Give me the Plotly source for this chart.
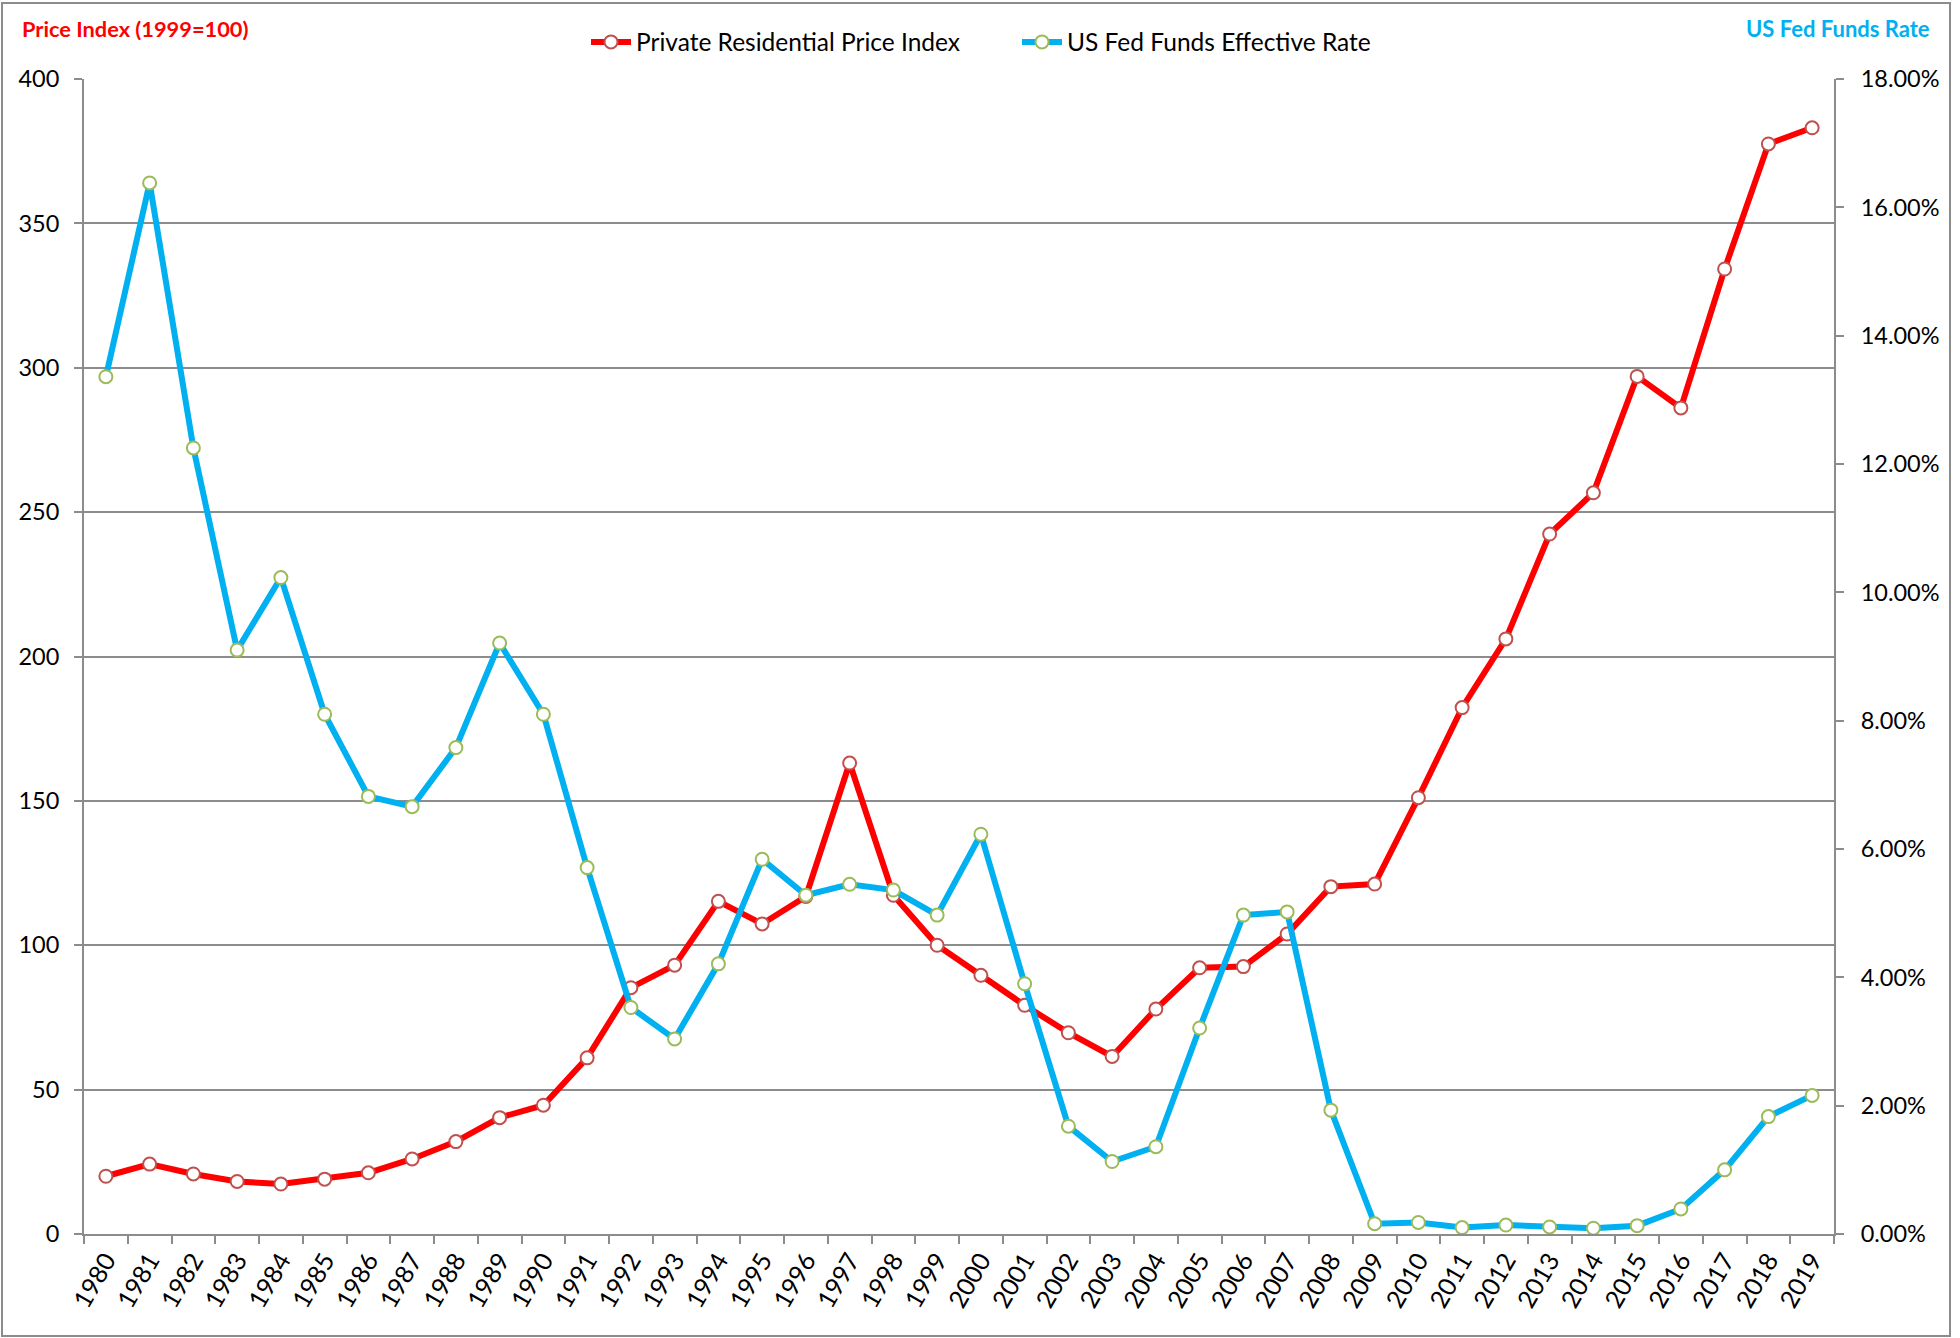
import plotly.graph_objects as go

years = [str(y) for y in range(1980, 2020)]

price_index = [20.0, 24.2, 20.8, 18.2, 17.3, 19.0, 21.2, 26.0, 32.0, 40.3,
               44.6, 61.0, 85.3, 93.1, 115.2, 107.4, 116.9, 163.1, 117.3, 100.0,
               89.6, 79.2, 69.7, 61.5, 77.9, 92.2, 92.6, 103.9, 120.3, 121.2,
               151.1, 182.3, 206.1, 242.4, 256.7, 297.0, 286.1, 334.2, 377.5, 383.1]

fed_funds = [13.36, 16.38, 12.25, 9.10, 10.23, 8.10, 6.82, 6.66, 7.58, 9.21,
             8.10, 5.71, 3.53, 3.04, 4.21, 5.84, 5.28, 5.45, 5.36, 4.97,
             6.23, 3.90, 1.68, 1.13, 1.36, 3.21, 4.97, 5.02, 1.93, 0.16,
             0.18, 0.10, 0.14, 0.11, 0.09, 0.13, 0.39, 1.00, 1.83, 2.16]

left_title = "Price Index (1999=100)"
right_title = "US Fed Funds Rate"
name_price = "Private Residential Price Index"
name_fed = "US Fed Funds Effective Rate"

FONT = "Lato"
GRID = "#8C8C8C"

W, H = 1960, 1338
L, R, T, B = 84, 1834, 79, 1234

fig = go.Figure()
fig.add_trace(go.Scatter(
    x=years, y=price_index, name=name_price, mode="lines+markers",
    line=dict(color="#FF0000", width=6),
    marker=dict(symbol="circle", size=13, color="white",
                line=dict(color="#C0504D", width=2)),
    legendwidth=376,
    yaxis="y"))
fig.add_trace(go.Scatter(
    x=years, y=fed_funds, name=name_fed, mode="lines+markers",
    line=dict(color="#00B0F0", width=6),
    marker=dict(symbol="circle", size=13, color="white",
                line=dict(color="#9BBB59", width=2)),
    yaxis="y2"))

def px_x(p):
    return (p - L) / (R - L)

def px_y(p):
    return (B - p) / (B - T)

fig.update_layout(
    width=W, height=H,
    margin=dict(l=L, r=W - R, t=T, b=H - B, pad=0),
    paper_bgcolor="white", plot_bgcolor="white",
    font=dict(family=FONT, size=23, color="black"),
    showlegend=True,
    legend=dict(orientation="h", x=px_x(981), xanchor="center",
                y=px_y(42), yanchor="middle",
                font=dict(family=FONT, size=24.5, color="black"),
                bgcolor="rgba(0,0,0,0)", itemwidth=40, traceorder="normal",
                tracegroupgap=0),
    xaxis=dict(type="category", range=[-0.5, 39.5],
               showline=True, linecolor=GRID, linewidth=2,
               ticks="outside", tickson="boundaries", ticklen=8,
               tickcolor=GRID, tickwidth=2, tickangle=-60,
               tickfont=dict(family=FONT, size=25, color="black"),
               showgrid=False, zeroline=False, mirror=False),
    yaxis=dict(range=[0, 400], dtick=50, tick0=0,
               showline=True, linecolor=GRID, linewidth=2,
               ticks="outside", ticklen=8, tickcolor=GRID, tickwidth=2,
               ticklabelstandoff=10,
               tickfont=dict(family=FONT, size=23.5, color="black"),
               showgrid=True, gridcolor=GRID, gridwidth=2, zeroline=False),
    yaxis2=dict(range=[0, 18], dtick=2, tick0=0, overlaying="y", side="right",
                tickformat=".2f", ticksuffix="%",
                showline=True, linecolor=GRID, linewidth=2,
                ticks="outside", ticklen=8, tickcolor=GRID, tickwidth=2,
                ticklabelstandoff=12,
                tickfont=dict(family=FONT, size=23.5, color="black"),
                showgrid=False, zeroline=False),
)

fig.add_annotation(text="<b>%s</b>" % left_title, xref="paper", yref="paper",
                   x=px_x(20), y=px_y(28), xanchor="left", yanchor="middle",
                   showarrow=False, font=dict(family=FONT, size=21.8, color="#FF0000"))
fig.add_annotation(text="<b>%s</b>" % right_title, xref="paper", yref="paper",
                   x=px_x(1932), y=px_y(28), xanchor="right", yanchor="middle",
                   showarrow=False, font=dict(family=FONT, size=22, color="#00B0F0"))

# chart area border
fig.add_shape(type="rect", xref="paper", yref="paper",
              x0=px_x(2), x1=px_x(1950), y0=px_y(1336), y1=px_y(3),
              line=dict(color=GRID, width=2), fillcolor="rgba(0,0,0,0)", layer="below")

fig.write_html("out.html", config={"displayModeBar": False},
               post_script="document.body.style.margin='0';document.body.style.overflow='hidden';")
